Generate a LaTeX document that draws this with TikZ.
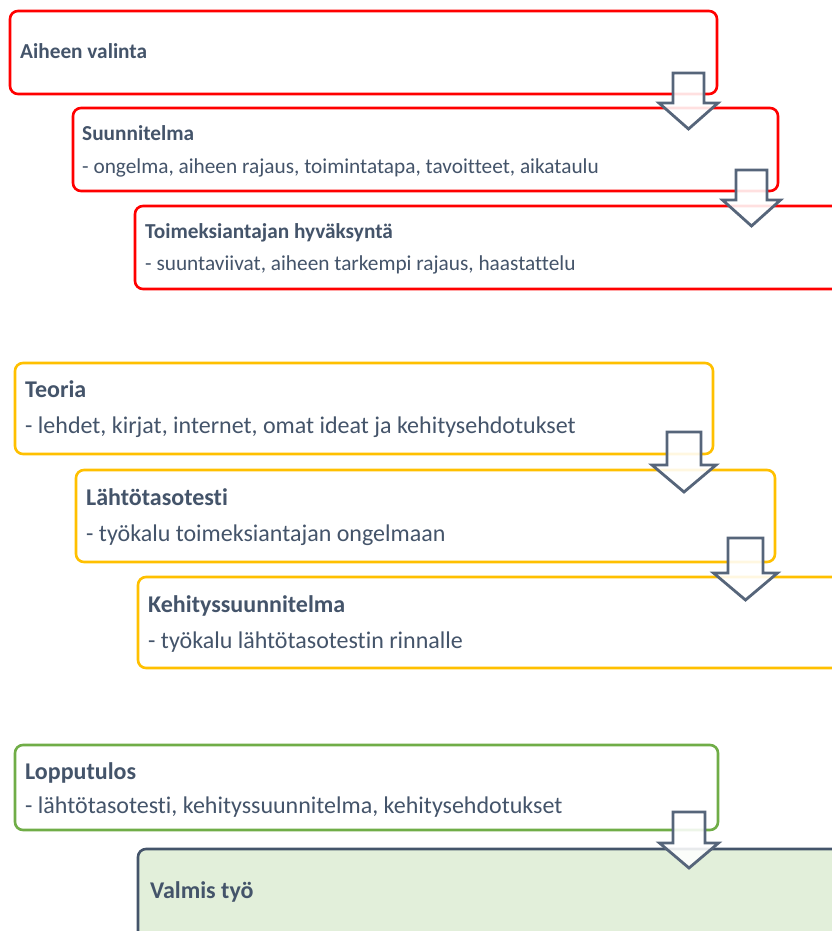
\documentclass[tikz,border=0pt]{standalone}
\usepackage{fontspec}
\setmainfont{Carlito}[Ligatures=NoCommon]
\definecolor{txt}{HTML}{44546A}
\definecolor{arrc}{HTML}{56657A}
\definecolor{redc}{HTML}{FF0000}
\definecolor{yelc}{HTML}{FFC000}
\definecolor{grnc}{HTML}{70AD47}
\definecolor{grnfill}{HTML}{E2EFDA}
\newcommand\flowarrow[6]{% cx, ytop, yhead, ytip, half shaft, half head
  \draw[flowarr] ({#1-#5},#2) -- ({#1+#5},#2) -- ({#1+#5},#3) -- ({#1+#6},#3)
    -- (#1,#4) -- ({#1-#6},#3) -- ({#1-#5},#3) -- cycle;}
\begin{document}
\begin{tikzpicture}[x=1pt,y=-1pt,
  box/.style={draw, rounded corners=8pt, line width=2.6pt, fill=white,
    anchor=north west, inner sep=0pt, outer sep=0pt},
  redbox/.style={box, draw=redc},
  yelbox/.style={box, draw=yelc},
  grnbox/.style={box, draw=grnc},
  endbox/.style={box, draw=txt, fill=grnfill},
  rtitle/.style={anchor=base west, inner sep=0pt, text=txt, font=\fontsize{21.3}{25}\selectfont\bfseries},
  rline/.style={anchor=base west, inner sep=0pt, text=txt, font=\fontsize{21.3}{25}\selectfont},
  ytitle/.style={anchor=base west, inner sep=0pt, text=txt, font=\fontsize{24}{29}\selectfont\bfseries},
  yline/.style={anchor=base west, inner sep=0pt, text=txt, font=\fontsize{24}{29}\selectfont},
  flowarr/.style={draw=arrc, fill=white, fill opacity=0.88, line width=2.8pt, line join=miter}
]
\useasboundingbox (0,0) rectangle (832,931);
\clip (0,0) rectangle (832,931);

% red group
\node[redbox, minimum width=707pt, minimum height=83pt] (r1) at (10,11) {};
\node[redbox, minimum width=705pt, minimum height=83pt] (r2) at (73,108) {};
\node[redbox, minimum width=715pt, minimum height=83pt] (r3) at (135,206) {};
\node[rtitle] (r1t) at (20,59) {Aiheen valinta};
\node[rtitle] (r2t) at (82,140.5) {Suunnitelma};
\node[rline] (r2l) at (82,173) {- ongelma, aiheen rajaus, toimintatapa, tavoitteet, aikataulu};
\node[rtitle] (r3t) at (145,238) {Toimeksiantajan hyväksyntä};
\node[rline] (r3l) at (145,270) {- suuntaviivat, aiheen tarkempi rajaus, haastattelu};

% yellow group
\node[yelbox, minimum width=698pt, minimum height=91pt] (y1) at (15,363) {};
\node[yelbox, minimum width=699pt, minimum height=92pt] (y2) at (76,470) {};
\node[yelbox, minimum width=712pt, minimum height=91pt] (y3) at (138,577) {};
\node[ytitle] (y1t) at (25,397) {Teoria};
\node[yline] (y1l) at (25,433) {- lehdet, kirjat, internet, omat ideat ja kehitysehdotukset};
\node[ytitle] (y2t) at (86,505) {Lähtötasotesti};
\node[yline] (y2l) at (86,541.5) {- työkalu toimeksiantajan ongelmaan};
\node[ytitle] (y3t) at (148,612) {Kehityssuunnitelma};
\node[yline] (y3l) at (148,648) {- työkalu lähtötasotestin rinnalle};

% green group
\node[grnbox, minimum width=703pt, minimum height=85pt] (g1) at (15,745) {};
\node[endbox, minimum width=712pt, minimum height=100pt] (g2) at (138,849) {};
\node[ytitle] (g1t) at (25,779) {Lopputulos};
\node[yline] (g1l) at (25,813) {- lähtötasotesti, kehityssuunnitelma, kehitysehdotukset};
\node[ytitle] (g2t) at (150,898) {Valmis työ};

% block arrows
\flowarrow{688.5}{73}{103}{129}{15.5}{29.5}
\flowarrow{751.5}{170}{200}{226}{15.5}{29}
\flowarrow{684}{432}{465}{492}{17}{32}
\flowarrow{745.5}{538}{573}{600}{17.5}{32}
\flowarrow{689}{812}{843}{868}{16}{29.5}
\end{tikzpicture}
\end{document}
